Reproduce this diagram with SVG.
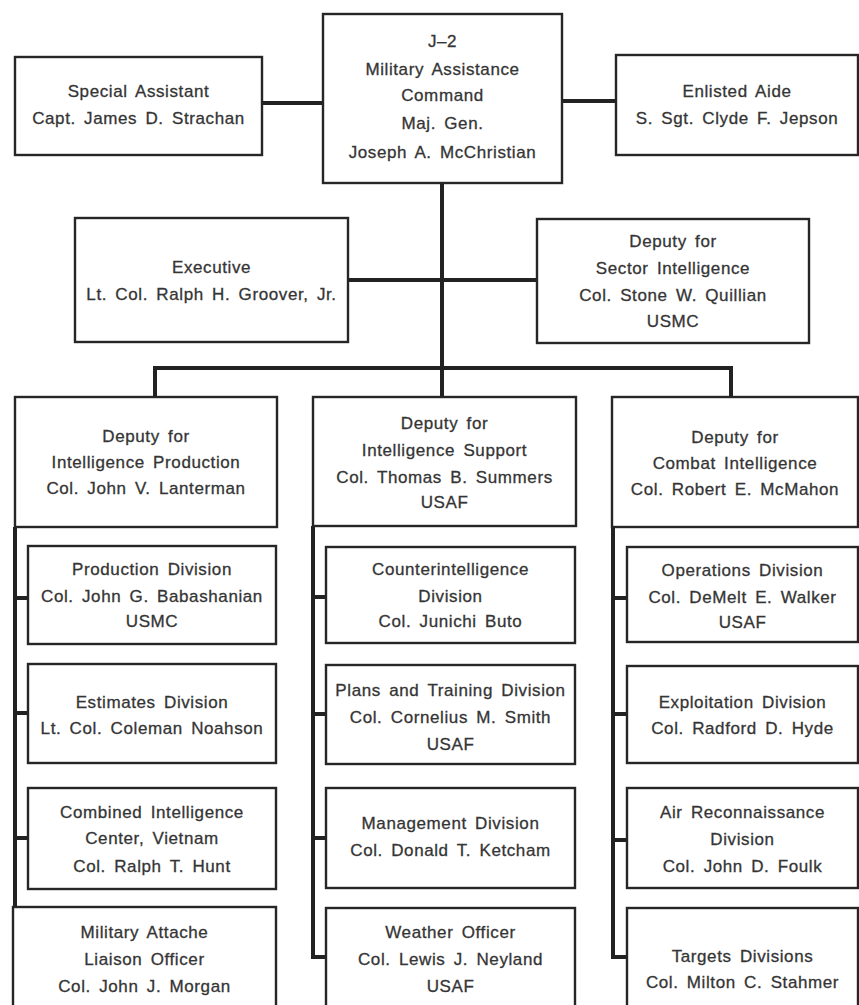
<svg xmlns="http://www.w3.org/2000/svg" width="859" height="1005" viewBox="0 0 859 1005">
  <style>
    .box { fill: #ffffff; stroke: #262626; stroke-width: 2.4; }
    .link { fill: none; stroke: #222222; stroke-width: 4; stroke-linejoin: miter; stroke-linecap: butt; }
    .lbl { font-family: "Liberation Sans", Arial, sans-serif; font-size: 17px; fill: #353535; stroke: #353535; stroke-width: 0.3; text-anchor: middle; letter-spacing: 0.6px; word-spacing: 3px; }
  </style>
  <rect width="859" height="1005" fill="#ffffff"/>

  <!-- connectors -->
  <g id="connectors">
    <line class="link" x1="262" y1="103" x2="323" y2="103"/>
    <line class="link" x1="562" y1="101" x2="616" y2="101"/>
    <line class="link" x1="442" y1="183" x2="442" y2="397"/>
    <line class="link" x1="348" y1="280" x2="537" y2="280"/>
    <polyline class="link" points="155,397 155,368 731,368 731,397"/>
    <!-- left column spine -->
    <line class="link" x1="15" y1="527" x2="15" y2="907"/>
    <line class="link" x1="15" y1="598" x2="28" y2="598"/>
    <line class="link" x1="15" y1="713" x2="28" y2="713"/>
    <line class="link" x1="15" y1="838" x2="28" y2="838"/>
    <!-- middle column spine -->
    <polyline class="link" points="313,526 313,957 326,957"/>
    <line class="link" x1="313" y1="597" x2="326" y2="597"/>
    <line class="link" x1="313" y1="714" x2="326" y2="714"/>
    <line class="link" x1="313" y1="838" x2="326" y2="838"/>
    <!-- right column spine -->
    <polyline class="link" points="613,527 613,957 627,957"/>
    <line class="link" x1="613" y1="598" x2="627" y2="598"/>
    <line class="link" x1="613" y1="714" x2="627" y2="714"/>
    <line class="link" x1="613" y1="840" x2="627" y2="840"/>
  </g>

  <!-- top level -->
  <g id="special-assistant">
    <rect class="box" x="15" y="57" width="247" height="98"/>
    <text class="lbl" x="138.5" y="97">Special Assistant</text>
    <text class="lbl" x="138.5" y="124">Capt. James D. Strachan</text>
  </g>
  <g id="j2">
    <rect class="box" x="323" y="14" width="239" height="169"/>
    <text class="lbl" x="442.5" y="47">J–2</text>
    <text class="lbl" x="442.5" y="75">Military Assistance</text>
    <text class="lbl" x="442.5" y="101">Command</text>
    <text class="lbl" x="442.5" y="129">Maj. Gen.</text>
    <text class="lbl" x="442.5" y="158">Joseph A. McChristian</text>
  </g>
  <g id="enlisted-aide">
    <rect class="box" x="616" y="55" width="242" height="100"/>
    <text class="lbl" x="737" y="97">Enlisted Aide</text>
    <text class="lbl" x="737" y="124">S. Sgt. Clyde F. Jepson</text>
  </g>
  <g id="executive">
    <rect class="box" x="75" y="218" width="273" height="124"/>
    <text class="lbl" x="211.5" y="273">Executive</text>
    <text class="lbl" x="211.5" y="300">Lt. Col. Ralph H. Groover, Jr.</text>
  </g>
  <g id="deputy-sector">
    <rect class="box" x="537" y="219" width="272" height="124"/>
    <text class="lbl" x="673" y="247">Deputy for</text>
    <text class="lbl" x="673" y="274">Sector Intelligence</text>
    <text class="lbl" x="673" y="301">Col. Stone W. Quillian</text>
    <text class="lbl" x="673" y="327">USMC</text>
  </g>

  <!-- left column -->
  <g id="deputy-production">
    <rect class="box" x="15" y="397" width="262" height="130"/>
    <text class="lbl" x="146" y="442">Deputy for</text>
    <text class="lbl" x="146" y="468">Intelligence Production</text>
    <text class="lbl" x="146" y="494">Col. John V. Lanterman</text>
  </g>
  <g id="production-division">
    <rect class="box" x="28" y="546" width="248" height="98"/>
    <text class="lbl" x="152" y="575">Production Division</text>
    <text class="lbl" x="152" y="602">Col. John G. Babashanian</text>
    <text class="lbl" x="152" y="627">USMC</text>
  </g>
  <g id="estimates-division">
    <rect class="box" x="28" y="664" width="248" height="99"/>
    <text class="lbl" x="152" y="708">Estimates Division</text>
    <text class="lbl" x="152" y="734">Lt. Col. Coleman Noahson</text>
  </g>
  <g id="combined-intelligence">
    <rect class="box" x="28" y="788" width="248" height="101"/>
    <text class="lbl" x="152" y="818">Combined Intelligence</text>
    <text class="lbl" x="152" y="844">Center, Vietnam</text>
    <text class="lbl" x="152" y="872">Col. Ralph T. Hunt</text>
  </g>
  <g id="military-attache">
    <rect class="box" x="13" y="907" width="263" height="110"/>
    <text class="lbl" x="144.5" y="938">Military Attache</text>
    <text class="lbl" x="144.5" y="965">Liaison Officer</text>
    <text class="lbl" x="144.5" y="992">Col. John J. Morgan</text>
  </g>

  <!-- middle column -->
  <g id="deputy-support">
    <rect class="box" x="313" y="397" width="263" height="129"/>
    <text class="lbl" x="444.5" y="429">Deputy for</text>
    <text class="lbl" x="444.5" y="456">Intelligence Support</text>
    <text class="lbl" x="444.5" y="483">Col. Thomas B. Summers</text>
    <text class="lbl" x="444.5" y="508">USAF</text>
  </g>
  <g id="counterintelligence-division">
    <rect class="box" x="326" y="547" width="249" height="96"/>
    <text class="lbl" x="450.5" y="575">Counterintelligence</text>
    <text class="lbl" x="450.5" y="602">Division</text>
    <text class="lbl" x="450.5" y="627">Col. Junichi Buto</text>
  </g>
  <g id="plans-training-division">
    <rect class="box" x="326" y="665" width="249" height="99"/>
    <text class="lbl" x="450.5" y="696">Plans and Training Division</text>
    <text class="lbl" x="450.5" y="723">Col. Cornelius M. Smith</text>
    <text class="lbl" x="450.5" y="750">USAF</text>
  </g>
  <g id="management-division">
    <rect class="box" x="326" y="788" width="249" height="100"/>
    <text class="lbl" x="450.5" y="829">Management Division</text>
    <text class="lbl" x="450.5" y="856">Col. Donald T. Ketcham</text>
  </g>
  <g id="weather-officer">
    <rect class="box" x="326" y="908" width="249" height="110"/>
    <text class="lbl" x="450.5" y="938">Weather Officer</text>
    <text class="lbl" x="450.5" y="965">Col. Lewis J. Neyland</text>
    <text class="lbl" x="450.5" y="992">USAF</text>
  </g>

  <!-- right column -->
  <g id="deputy-combat">
    <rect class="box" x="612" y="397" width="246" height="130"/>
    <text class="lbl" x="735" y="443">Deputy for</text>
    <text class="lbl" x="735" y="469">Combat Intelligence</text>
    <text class="lbl" x="735" y="495">Col. Robert E. McMahon</text>
  </g>
  <g id="operations-division">
    <rect class="box" x="627" y="547" width="231" height="95"/>
    <text class="lbl" x="742.5" y="576">Operations Division</text>
    <text class="lbl" x="742.5" y="603">Col. DeMelt E. Walker</text>
    <text class="lbl" x="742.5" y="628">USAF</text>
  </g>
  <g id="exploitation-division">
    <rect class="box" x="627" y="666" width="231" height="97"/>
    <text class="lbl" x="742.5" y="708">Exploitation Division</text>
    <text class="lbl" x="742.5" y="734">Col. Radford D. Hyde</text>
  </g>
  <g id="air-reconnaissance-division">
    <rect class="box" x="627" y="788" width="231" height="100"/>
    <text class="lbl" x="742.5" y="818">Air Reconnaissance</text>
    <text class="lbl" x="742.5" y="845">Division</text>
    <text class="lbl" x="742.5" y="872">Col. John D. Foulk</text>
  </g>
  <g id="targets-division">
    <rect class="box" x="627" y="908" width="231" height="110"/>
    <text class="lbl" x="742.5" y="962">Targets Divisions</text>
    <text class="lbl" x="742.5" y="988">Col. Milton C. Stahmer</text>
  </g>
</svg>
